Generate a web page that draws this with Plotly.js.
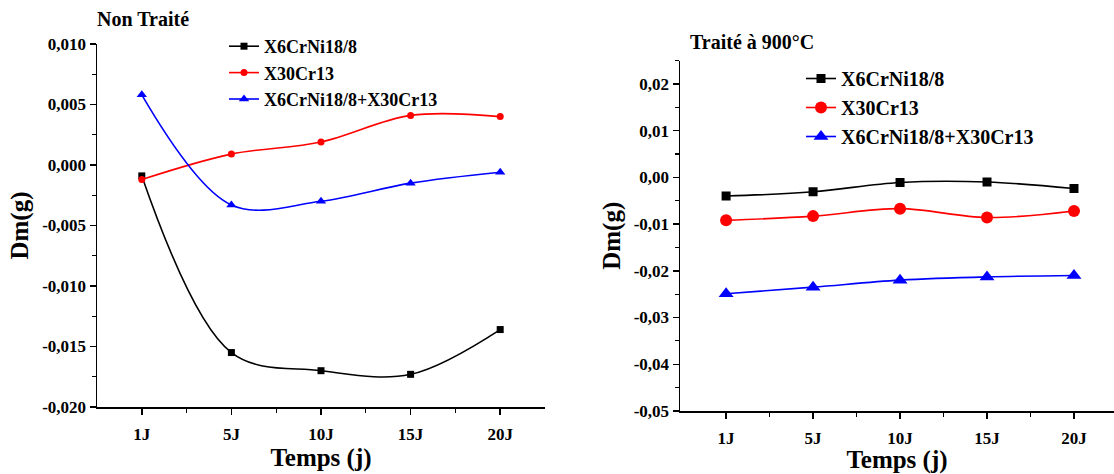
<!DOCTYPE html>
<html>
<head>
<meta charset="utf-8">
<script src="https://cdn.plot.ly/plotly-3.0.1.min.js"></script>
<style>
  html, body { margin: 0; padding: 0; background: #fff; }
  #chart { width: 1114px; height: 474px; }
</style>
</head>
<body>
<div id="chart"></div>
<script>
// ---- Data ----
const categories = ['1J', '5J', '10J', '15J', '20J'];
const seriesNames = ['X6CrNi18/8', 'X30Cr13', 'X6CrNi18/8+X30Cr13'];

// Left panel: Non Traité
const nonTraite_X6CrNi = [-0.0009, -0.0155, -0.0170, -0.0173, -0.0136];
const nonTraite_X30Cr13 = [-0.0012, 0.0009, 0.0019, 0.0041, 0.0040];
const nonTraite_Mix = [0.0058, -0.0033, -0.0030, -0.0015, -0.0006];

// Right panel: Traité à 900°C
const traite_X6CrNi = [-0.0040, -0.0031, -0.0011, -0.0010, -0.0024];
const traite_X30Cr13 = [-0.0092, -0.0083, -0.0067, -0.0086, -0.0072];
const traite_Mix = [-0.0249, -0.0235, -0.0220, -0.0213, -0.0210];

const leftYTickVals = [0.010, 0.005, 0.000, -0.005, -0.010, -0.015, -0.020];
const leftYTickText = ['0,010', '0,005', '0,000', '-0,005', '-0,010', '-0,015', '-0,020'];
const rightYTickVals = [0.02, 0.01, 0.00, -0.01, -0.02, -0.03, -0.04, -0.05];
const rightYTickText = ['0,02', '0,01', '0,00', '-0,01', '-0,02', '-0,03', '-0,04', '-0,05'];

const colors = ['#000000', '#ff0000', '#0000ff'];
const xIdx = categories.map((c, i) => i);

const FONT = "'Liberation Serif', 'Times New Roman', serif";

function trace(y, i, xa, ya, legend, sizes) {
  const symbols = ['square', 'circle', 'triangle-up'];
  return {
    x: xIdx, y: y, name: seriesNames[i], type: 'scatter', mode: 'lines+markers',
    xaxis: xa, yaxis: ya, legend: legend,
    line: { color: colors[i], width: 1.6, shape: 'spline', smoothing: 1.0 },
    marker: { color: colors[i], symbol: symbols[i], size: sizes[i] }
  };
}

const leftSizes = [7, 7, 9];
const rightSizes = [9, 12, 13];

const data = [
  trace(nonTraite_X6CrNi, 0, 'x', 'y', 'legend', leftSizes),
  trace(nonTraite_X30Cr13, 1, 'x', 'y', 'legend', leftSizes),
  trace(nonTraite_Mix, 2, 'x', 'y', 'legend', leftSizes),
  trace(traite_X6CrNi, 0, 'x2', 'y2', 'legend2', rightSizes),
  trace(traite_X30Cr13, 1, 'x2', 'y2', 'legend2', rightSizes),
  trace(traite_Mix, 2, 'x2', 'y2', 'legend2', rightSizes)
];

const W = 1114, H = 474;
const tickFont = { family: FONT, size: 17, color: '#000', weight: 'bold' };
const titleFont = { family: FONT, size: 25, color: '#000', weight: 'bold' };

function xAxis(domain, range) {
  return {
    domain: domain, range: range, tickmode: 'array', tickvals: xIdx, ticktext: categories,
    showline: true, linecolor: '#000', linewidth: 1.5, ticks: 'outside', ticklen: 6, tickwidth: 1.5,
    tickcolor: '#000', showgrid: false, zeroline: false, tickfont: tickFont, ticklabelstandoff: 5,
    minor: { tickmode: 'array', tickvals: [0.5, 1.5, 2.5, 3.5], ticks: 'outside', ticklen: 4, tickwidth: 1.2, tickcolor: '#000', showgrid: false },
    title: { text: 'Temps (j)', font: titleFont, standoff: 3 }
  };
}
function yAxis(domain, range, vals, text, minorD) {
  return {
    domain: domain, range: range, tickmode: 'array', tickvals: vals, ticktext: text,
    showline: true, linecolor: '#000', linewidth: 1.5, ticks: 'outside', ticklen: 6, tickwidth: 1.5,
    tickcolor: '#000', showgrid: false, zeroline: false, tickfont: tickFont,
    minor: { tickmode: 'linear', tick0: 0, dtick: minorD, ticks: 'outside', ticklen: 4, tickwidth: 1.2, tickcolor: '#000', showgrid: false },
    title: { text: 'Dm(g)', font: titleFont, standoff: 6 }
  };
}

const layout = {
  width: W, height: H,
  margin: { l: 0, r: 0, t: 0, b: 0 },
  paper_bgcolor: '#fff', plot_bgcolor: '#fff',
  showlegend: true,
  xaxis: Object.assign(xAxis([97 / W, 545 / W], [-0.5, 4.5]), { anchor: 'y' }),
  yaxis: Object.assign(yAxis([1 - 407 / H, 1 - 44 / H], [-0.020, 0.010], leftYTickVals, leftYTickText, 0.0025), { anchor: 'x' }),
  xaxis2: Object.assign(xAxis([680 / W, 1], [-0.53, 4.46]), { anchor: 'y2' }),
  yaxis2: Object.assign(yAxis([1 - 411 / H, 1 - 60.5 / H], [-0.05, 0.025], rightYTickVals, rightYTickText, 0.005), { anchor: 'x2' }),
  legend: {
    x: 224 / W, y: 1 - 28 / H, xanchor: 'left', yanchor: 'top',
    bgcolor: 'rgba(0,0,0,0)', font: { family: FONT, size: 18, color: '#000', weight: 'bold' },
    tracegroupgap: 0
  },
  legend2: {
    x: 801 / W, y: 1 - 59 / H, xanchor: 'left', yanchor: 'top',
    bgcolor: 'rgba(0,0,0,0)', font: { family: FONT, size: 20, color: '#000', weight: 'bold' },
    tracegroupgap: 0
  },
  annotations: [
    { text: 'Non Traité', xref: 'paper', yref: 'paper', x: 95 / W, y: 1 - 19 / H, xanchor: 'left', yanchor: 'middle', showarrow: false,
      font: { family: FONT, size: 20, color: '#000', weight: 'bold' } },
    { text: 'Traité à 900°C', xref: 'paper', yref: 'paper', x: 688 / W, y: 1 - 42 / H, xanchor: 'left', yanchor: 'middle', showarrow: false,
      font: { family: FONT, size: 20, color: '#000', weight: 'bold' } }
  ]
};

Plotly.newPlot('chart', data, layout, { displayModeBar: false, staticPlot: true });
</script>
</body>
</html>
